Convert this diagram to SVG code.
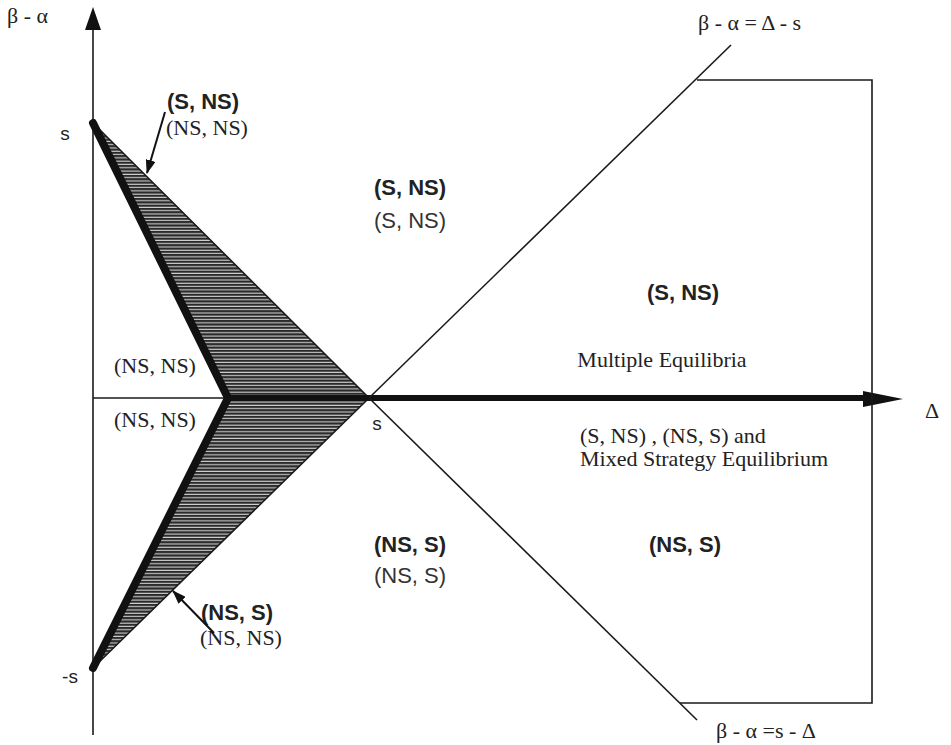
<svg xmlns="http://www.w3.org/2000/svg" width="951" height="745" viewBox="0 0 951 745">
<style>
.thin{stroke:#1a1a1a;stroke-width:1.6;fill:none}
.thick{stroke:#111;stroke-width:8;fill:none;stroke-linecap:round;stroke-linejoin:miter}
.bs{font-family:"Liberation Sans",Arial,sans-serif;font-weight:bold;font-size:22px;fill:#222;text-anchor:middle}
.rs{font-family:"Liberation Sans",Arial,sans-serif;font-size:22px;fill:#333;text-anchor:middle}
.sf{font-family:"Liberation Serif","Times New Roman",serif;font-size:22px;fill:#222;text-anchor:middle}
.sfl{font-family:"Liberation Serif","Times New Roman",serif;font-size:22px;fill:#222}
.ax{font-family:"Liberation Sans",Arial,sans-serif;font-size:19px;fill:#222;text-anchor:middle}
</style>
<defs>
<pattern id="hatch" patternUnits="userSpaceOnUse" width="8" height="3.3">
<rect width="8" height="3.3" fill="#d0d0d0"/>
<rect y="0" width="8" height="2.2" fill="#2a2a2a"/>
</pattern>
<marker id="ah" viewBox="0 0 14 10" refX="13" refY="5" markerWidth="14" markerHeight="10" markerUnits="userSpaceOnUse" orient="auto">
<path d="M0,0 L14,5 L0,10 Z" fill="#111"/>
</marker>
</defs>

<g id="hatched-region">
<polygon points="93,123 369,398 93,668 228,398" fill="url(#hatch)"/>
<polyline class="thin" points="93,123 369,398 93,668"/>
</g>

<g id="axes">
<line class="thin" x1="93" y1="28" x2="93" y2="735"/>
<polygon points="93,7 85,30 101,30" fill="#111"/>
<line class="thin" x1="93" y1="398" x2="230" y2="398"/>
<line x1="228" y1="398" x2="866" y2="398" stroke="#111" stroke-width="6"/>
<polygon points="903,399 863,391 863,407" fill="#111"/>
<text class="sfl" x="7" y="23" font-size="19">β - α</text>
<text class="sfl" x="925" y="418" font-size="19">Δ</text>
<text class="ax" x="65" y="140">s</text>
<text class="ax" x="70" y="683">-s</text>
<text class="ax" x="377" y="430">s</text>
</g>

<g id="chevron">
<polyline class="thick" points="93,123 228,398 93,668"/>
</g>

<g id="boundary-lines">
<line class="thin" x1="369" y1="398" x2="731" y2="45"/>
<line class="thin" x1="369" y1="398" x2="697" y2="720"/>
<polyline class="thin" points="697,80 872,80 872,703 680,703"/>
<text class="sfl" x="698" y="30" font-size="19">β - α = Δ - s</text>
<text class="sfl" x="716" y="738" font-size="19">β - α =s - Δ</text>
</g>

<g id="label-top-left">
<text class="bs" x="203" y="109">(S, NS)</text>
<text class="sf" x="207" y="135" font-size="21">(NS, NS)</text>
</g>

<g id="label-bottom-left">
<text class="bs" x="237" y="620">(NS, S)</text>
<text class="sf" x="241" y="645" font-size="21">(NS, NS)</text>
</g>

<g id="label-left-upper">
<text class="sf" x="155" y="373">(NS, NS)</text>
</g>

<g id="label-left-lower">
<text class="sf" x="155" y="427">(NS, NS)</text>
</g>

<g id="label-top-center">
<text class="bs" x="410" y="195">(S, NS)</text>
<text class="rs" x="410" y="228">(S, NS)</text>
</g>

<g id="label-right-upper">
<text class="bs" x="683" y="300">(S, NS)</text>
</g>

<g id="label-multiple">
<text class="sf" x="662" y="367">Multiple Equilibria</text>
<text class="sfl" x="580" y="443">(S, NS) , (NS, S) and</text>
<text class="sfl" x="580" y="466">Mixed Strategy Equilibrium</text>
</g>

<g id="label-bottom-center">
<text class="bs" x="410" y="552">(NS, S)</text>
<text class="rs" x="410" y="583">(NS, S)</text>
</g>

<g id="label-right-lower">
<text class="bs" x="685" y="552">(NS, S)</text>
</g>

<g id="connectors">
<line x1="165" y1="112" x2="147" y2="173" stroke="#111" stroke-width="2" marker-end="url(#ah)"/>
<line x1="214" y1="633" x2="173" y2="591" stroke="#111" stroke-width="2" marker-end="url(#ah)"/>
</g>
</svg>
